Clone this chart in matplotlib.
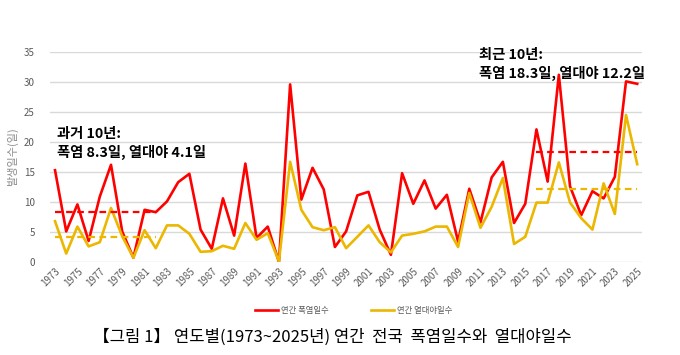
import matplotlib
matplotlib.use('Agg')
import matplotlib.pyplot as plt

plt.rcParams['font.family'] = ['Noto Sans CJK KR', 'DejaVu Sans']

# 연도
years = list(range(1973, 2026))

# 연간 폭염일수
heat_days = [15.3, 5.1, 9.6, 3.5, 10.9, 16.2, 5.1, 0.7, 8.7, 8.3,
             10.1, 13.3, 14.7, 5.4, 2.2, 10.6, 4.4, 16.4, 4.0, 5.9,
             0.0, 29.6, 10.4, 15.7, 12.1, 2.5, 5.1, 11.1, 11.7, 5.4,
             1.2, 14.8, 9.7, 13.6, 8.9, 11.2, 3.4, 12.2, 6.6, 14.1,
             16.7, 6.5, 9.7, 22.1, 13.4, 31.2, 12.6, 7.8, 11.8, 10.6,
             14.2, 30.1, 29.7]

# 연간 열대야일수
night_days = [6.8, 1.4, 5.9, 2.6, 3.3, 9.0, 4.3, 0.7, 5.3, 2.3,
              6.1, 6.1, 4.7, 1.7, 1.8, 2.7, 2.2, 6.5, 3.7, 4.8,
              0.1, 16.7, 8.7, 5.8, 5.3, 5.8, 2.3, 4.2, 6.1, 3.3,
              1.6, 4.4, 4.7, 5.1, 5.9, 5.9, 2.5, 11.5, 5.7, 9.2,
              14.0, 3.0, 4.2, 9.9, 9.9, 16.6, 9.9, 7.3, 5.4, 13.1,
              8.0, 24.5, 16.3]

# 과거/최근 10년 평균
past_years = [1973, 1982]
recent_years = [2016, 2025]
past_heat, past_night = 8.3, 4.1
recent_heat, recent_night = 18.3, 12.2

red = '#FF0000'
gold = '#EBB700'

fig = plt.figure(figsize=(6.8, 3.55), dpi=100)
ax = fig.add_axes([0.0735, 0.262, 0.8705, 0.5915])

ax.plot(years, heat_days, color=red, lw=1.9, label='연간 폭염일수', zorder=3)
ax.plot(years, night_days, color=gold, lw=1.9, label='연간 열대야일수', zorder=3)

# 평균 점선
ax.plot(past_years, [past_heat] * 2, color=red, lw=1.6, ls=(0, (3, 2)), zorder=4)
ax.plot(past_years, [past_night] * 2, color=gold, lw=1.6, ls=(0, (3, 2)), zorder=4)
ax.plot(recent_years, [recent_heat] * 2, color=red, lw=1.6, ls=(0, (3, 2)), zorder=4)
ax.plot(recent_years, [recent_night] * 2, color=gold, lw=1.6, ls=(0, (3, 2)), zorder=4)

ax.set_xlim(1972.55, 2025.42)
ax.set_ylim(0, 35)
ax.set_yticks(range(0, 36, 5))
ax.set_xticks(years[::2])
ax.set_xticklabels([str(y) for y in years[::2]], rotation=45, ha='right',
                   rotation_mode='anchor', fontsize=7, color='#595959')
ax.tick_params(axis='y', labelsize=7, labelcolor='#595959', length=0, pad=11)
ax.tick_params(axis='x', length=0, pad=3)
ax.grid(axis='y', color='#D9D9D9', lw=1)
ax.set_axisbelow(True)
for s in ax.spines.values():
    s.set_visible(False)

ax.set_ylabel('발생일수(일)', fontsize=8, color='#8C8C8C', labelpad=4)

# 주석
ax.text(1973.2, 17.0, '과거 10년:\n폭염 8.3일, 열대야 4.1일', fontsize=10.3,
        fontweight='bold', va='bottom', ha='left', linespacing=1.3)
ax.text(2010.9, 30.2, '최근 10년:\n폭염 18.3일, 열대야 12.2일', fontsize=10.3,
        fontweight='bold', va='bottom', ha='left', linespacing=1.3)

fig.legend(loc='center', bbox_to_anchor=(0.52, 0.125), ncol=2, frameon=False,
           fontsize=6, labelcolor='#595959', handlelength=2.8, columnspacing=5,
           handletextpad=0.4)

fig.text(0.488, 0.05, '【그림 1】 연도별(1973~2025년) 연간  전국  폭염일수와  열대야일수',
         ha='center', va='center', fontsize=12)

fig.savefig('out.png', dpi=100)
